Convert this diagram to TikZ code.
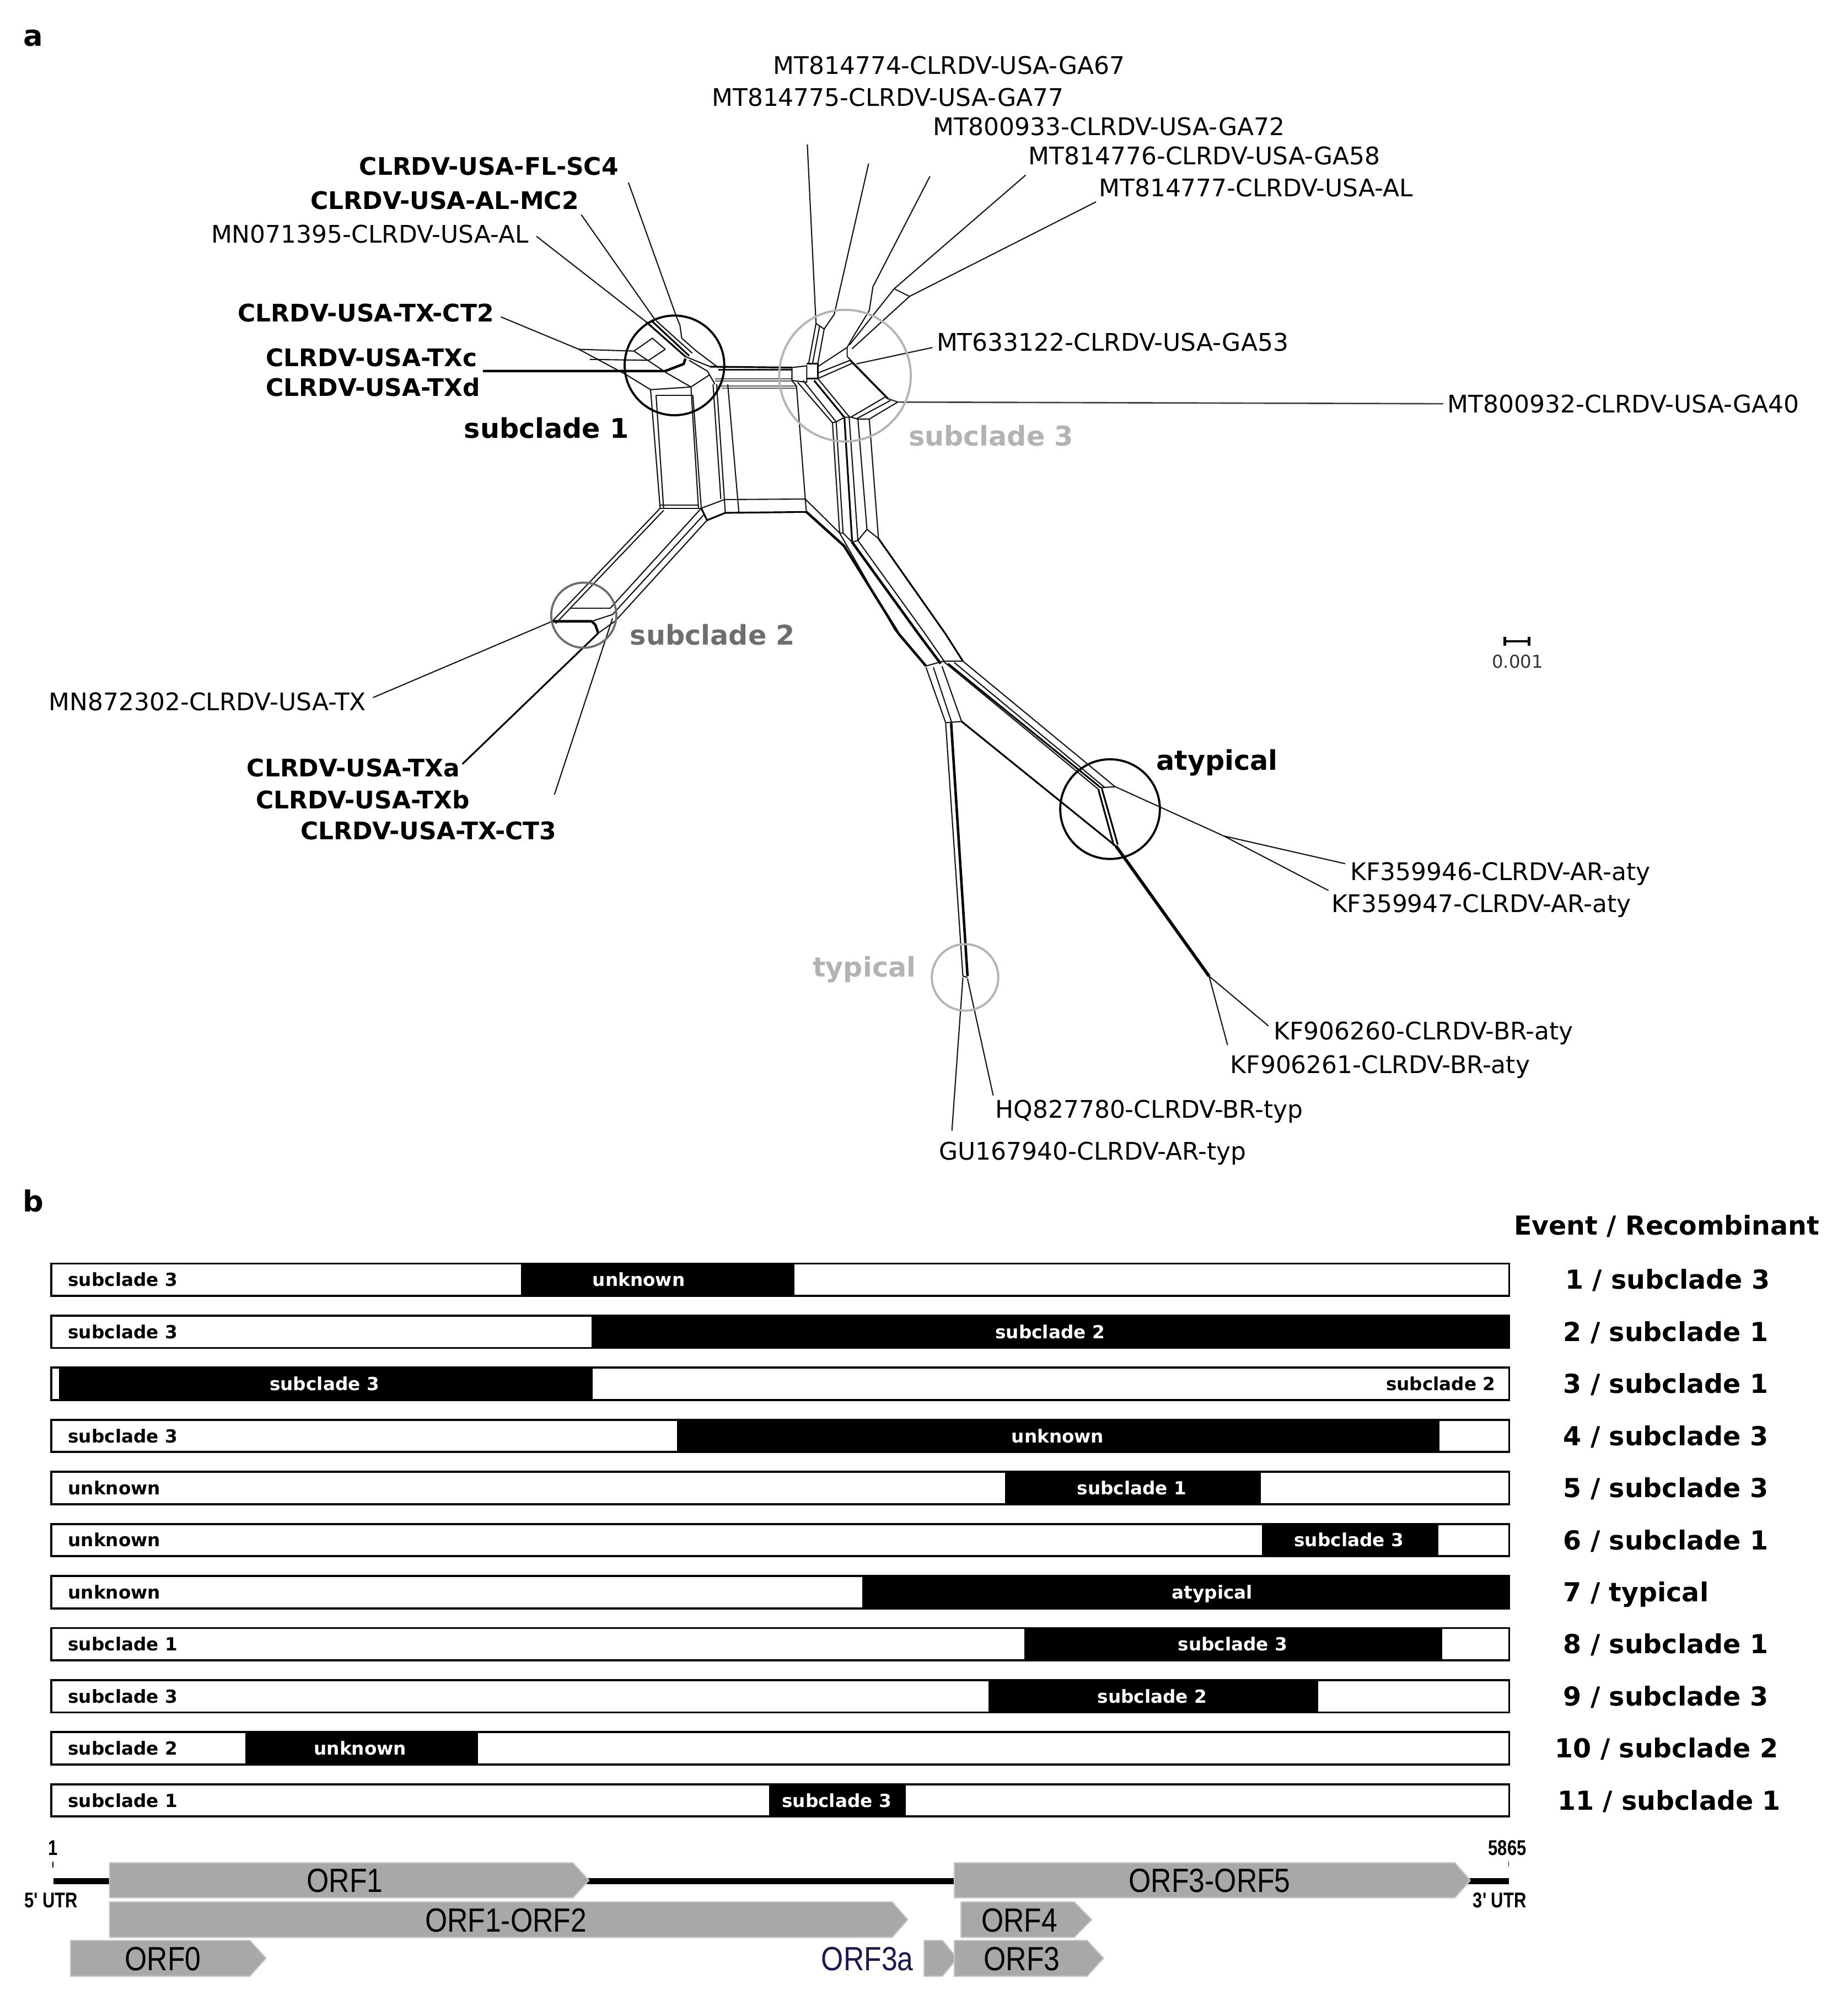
\documentclass[tikz,border=0pt]{standalone}
\usepackage{fontspec}
\usepackage{graphicx}
\setmainfont{DejaVu Sans}
\newfontfamily\lsans{Liberation Sans}
\definecolor{lg}{HTML}{B3B3B3}
\definecolor{dg}{HTML}{6E6E6E}
\definecolor{orfgray}{HTML}{A8A8A8}
\definecolor{orfedge}{HTML}{C8C8C8}
\definecolor{navyt}{HTML}{1A1A4E}
\tikzset{
 net/.style={line width=0.6pt, black!92, line join=round},
 netg/.style={line width=0.6pt, black!65, line join=round},
 netm/.style={line width=0.9pt, black, line join=round},
 nett/.style={line width=1.3pt, black, line join=round},
 circ/.style={line width=1.1pt},
 leaf/.style={font=\fontsize{12.5}{14}\selectfont, inner sep=0pt, anchor=west, text height=9.1pt, text depth=0pt},
 leafb/.style={leaf, font=\fontsize{12.5}{14}\selectfont\bfseries},
 clade/.style={font=\fontsize{14}{16}\selectfont\bfseries, inner sep=0pt, anchor=west, text height=10.2pt, text depth=0pt},
 panel/.style={font=\fontsize{15}{17}\selectfont\bfseries, inner sep=0pt},
 barbox/.style={line width=1.1pt, draw=black},
 barlbl/.style={font=\fontsize{9.3}{11}\selectfont\bfseries, inner sep=0pt, text height=6.8pt, text depth=0pt},
 evlbl/.style={font=\fontsize{13.5}{16}\selectfont\bfseries, inner sep=0pt, anchor=west, text height=9.8pt, text depth=0pt},
 orf/.style={fill=orfgray, draw=orfedge, line width=0.6pt, line join=round},
 orflbl/.style={font=\lsans\fontsize{17.3}{20}\selectfont, inner sep=0pt, text height=12.4pt, text depth=0pt},
 gmlbl/.style={font=\lsans\fontsize{11}{13}\selectfont\bfseries, inner sep=0pt, text height=7.9pt, text depth=0pt},
}
\newcommand{\sq}[1]{\scalebox{0.85}[1]{#1}}
\newcommand{\sqq}[1]{\scalebox{0.8}[1]{#1}}
\begin{document}
\begin{tikzpicture}[x=0.02317cm, y=-0.02317cm]
\useasboundingbox (0,0) rectangle (1446.7,1565.4);
\fill[white] (0,0) rectangle (1446.7,1565.4);

% ================= panel a =================
\node[panel] (pa) at (26,30) {a};

% ---- subclade 1 region ----
\draw[net] (392,248) -- (453.2,273.4) -- (490.6,293.5) -- (509.3,305);
\draw[net] (420,185) -- (505.7,251.8);
\draw[net] (455,168) -- (512.9,250.4);
\draw[net] (492,143) -- (529.4,247.5) -- (532.3,254.7) -- (533.7,264.7) -- (545.2,274.8) -- (562.5,287.8);
\draw[nett] (378,290.4) -- (520.8,290.4) -- (535.2,284.9) -- (536.6,280.6);
\draw[netm] (505.7,251.8) -- (536.6,279.1);
\draw[netm] (510,251) -- (539.5,278.5);
\draw[net] (513.6,251) -- (542,276.5);
\draw[net] (453.2,273.4) -- (496.3,274.8) -- (510.7,264.7) -- (520.8,273.4);
\draw[net] (461.8,281.3) -- (507.8,282) -- (520.8,273.4);
\draw[net] (496.3,274.8) -- (522.2,292.1) -- (540.9,302.9);
\draw[net] (536.6,279.1) -- (556,287);
\draw[net] (539.5,282) -- (553.9,290.6) -- (559.6,300.7);
\draw[net] (509.3,305) -- (540.9,302.9) -- (555.3,293.5);
\draw[net] (513.6,309.3) -- (542.4,309.3);

% ---- top horizontal bundle ----
\draw[netm] (556,287) -- (620,287.7);
\draw[net] (562.5,289.4) -- (620,289.4);
\draw[netg] (559.6,296.5) -- (620,296.5);
\draw[netg] (559.6,298.2) -- (620,298.2);
\draw[netg] (562,302.2) -- (623.5,302.2);
\draw[netg] (565,303.8) -- (623.5,303.8);

% ---- box ----
\draw[net] (509.3,305) -- (516.8,397.8);
\draw[net] (513.6,309.3) -- (519.5,397.8);
\draw[net] (540.9,302.9) -- (546.8,397.5);
\draw[net] (542.4,309.3) -- (549,397.8);
\draw[net] (558.2,300.7) -- (564.3,390.6);
\draw[net] (561,300.7) -- (567.1,391);
\draw[net] (569.7,300.7) -- (578.4,400.9);
\draw[net] (516.8,397.8) -- (549,397.8);
\draw[net] (516.8,395.5) -- (546.8,395.5);
\draw[net] (549,397.8) -- (567.1,391) -- (630.4,390.6);
\draw[netm] (549,397.8) -- (553.5,407.2) -- (567.8,401.4) -- (631.3,400.7);
\draw[net] (567.1,391) -- (567.8,401.4);
\draw[net] (630.4,390.6) -- (631.3,400.7);
\draw[net] (620,297.8) -- (623.5,302.2) -- (630.4,390.6);

% ---- subclade 3 region ----
\draw[net] (620,287.7) -- (631.6,286.3) -- (631.6,299.2) -- (620,297.8) -- cycle;
\draw[netm] (631.6,284.8) -- (640.2,284.8) -- (640.2,296.3) -- (631.6,296.3);
\draw[net] (632,113) -- (638.8,253.2) -- (633,284.8);
\draw[net] (641.6,255.5) -- (636,285);
\draw[net] (638.8,253.2) -- (645.2,257.5);
\draw[net] (680,128) -- (653.1,246) -- (645.2,257.5) -- (640.2,284.8);
\draw[net] (728,138) -- (683.4,224.4) -- (680.5,243.1) -- (669,261.8) -- (663.2,271.9);
\draw[net] (803,137) -- (700,226) -- (665,270);
\draw[net] (858,158) -- (712,232) -- (667,273);
\draw[net] (700,226) -- (712,232);
\draw[net] (640.2,287) -- (663.2,271.9) -- (663.2,279);
\draw[net] (640.2,292) -- (665.5,282);
\draw[net] (640.2,296.3) -- (668,284);
\draw[net] (730,272) -- (670.4,284.8);
\draw[net] (663.2,279) -- (693.4,310.5);
\draw[netm] (665.5,282) -- (695,312);
\draw[net] (668,284) -- (697,313.5);
\draw[line width=0.75pt, black!75] (1130,316) -- (702.8,314.7) -- (695,312);
\draw[net] (693.4,310.5) -- (666.1,326.5);
\draw[net] (697,313.5) -- (670,328);
\draw[net] (702.8,314.7) -- (680.5,328);
\draw[net] (624.4,299.2) -- (651.7,330.9);
\draw[net] (628.7,297.8) -- (654.6,330.2);
\draw[netm] (637.3,297.8) -- (661,326.6);
\draw[net] (640.2,296.3) -- (664.7,326);
\draw[net] (651.7,330.9) -- (657.3,417.2);
\draw[net] (654.6,330.2) -- (660,417.2);
\draw[netm] (661,326.6) -- (667.1,424.4);
\draw[net] (664.7,326) -- (671.6,423);
\draw[net] (671.6,328) -- (678.7,414.3);
\draw[net] (680.5,328) -- (687.7,421.5);
\draw[net] (651.7,330.9) -- (654.6,330.2) -- (661,326.6) -- (666.1,326.5) -- (671.6,328) -- (680.5,328);
\draw[net] (657.3,417.2) -- (660,417.2) -- (667.1,424.4) -- (671.6,423) -- (678.7,414.3) -- (687.7,421.5);

% ---- diagonal bundle ----
\draw[nett] (631.3,400.7) -- (660.8,427.3) -- (703.7,496.3) -- (724.9,521.3);
\draw[net] (630.4,390.6) -- (657.3,417.2) -- (700.5,493) -- (722,518.5);
\draw[nett] (667.1,424.4) -- (719.1,496.3) -- (736.4,519.4);
\draw[net] (671.6,423) -- (723.5,495) -- (739.5,518);
\draw[netm] (687.7,421.5) -- (740.3,496.3) -- (753.8,517.5);
\draw[net] (724.9,521.3) -- (738.4,517.5) -- (753.8,517.5);

% ---- atypical / typical ----
\draw[net] (738.4,517.5) -- (859.8,617.7);
\draw[netm] (742.2,519.4) -- (861.7,616.5);
\draw[net] (747,518.5) -- (865,616.5);
\draw[net] (753.8,517.5) -- (873.2,616);
\draw[net] (724.9,522.3) -- (740.3,565.7);
\draw[net] (730.7,522.3) -- (745.1,565.7);
\draw[net] (737.4,521.3) -- (752.8,564.7);
\draw[net] (740.3,565.7) -- (752.8,564.7);
\draw[net] (740.3,566) -- (753.8,764);
\draw[nett] (744.6,566) -- (757.4,764);
\draw[net] (753.8,764) -- (757.4,765);
\draw[net] (753.8,765) -- (745.2,885);
\draw[net] (757.4,766) -- (777.5,857.4);
\draw[netm] (752.8,564.7) -- (873.2,662);
\draw[netm] (859.8,617.7) -- (872,662);
\draw[netm] (862.5,617) -- (875,661);
\draw[net] (861.7,616.5) -- (873.2,615.8) -- (958,654.3) -- (1053,676);
\draw[net] (958,654.3) -- (1040,697);
\draw[line width=1.6pt] (873.5,662) -- (946.5,764);
\draw[net] (946.5,764) -- (993,803);
\draw[net] (946.5,764) -- (961,818);

% ---- subclade 2 ----
\draw[net] (516.8,397.8) -- (432.3,486.3);
\draw[net] (519.5,399.5) -- (435,488);
\draw[net] (549,397.8) -- (477.6,476.2);
\draw[net] (551.3,402.5) -- (479.5,481);
\draw[net] (553.5,407.2) -- (481.7,486);
\draw[net] (446,476.2) -- (477.6,476.2);
\draw[nett] (432.3,486.3) -- (463.2,486.3) -- (466.1,489.1) -- (468.3,495.6);
\draw[net] (468.3,495.6) -- (481.7,486);
\draw[net] (463.2,486.3) -- (479.5,481);
\draw[net] (432.3,486.3) -- (292,546);
\draw[netm] (468.3,495.6) -- (362,598);
\draw[net] (479.5,484) -- (474,500.7) -- (434,622);

% ---- circles ----
\draw[circ, black] (528,286) circle[radius=39];
\draw[circ, lg] (661.5,294) circle[radius=51.5];
\draw[circ, dg] (457,481.5) circle[radius=25.5];
\draw[circ, black] (869,633.3) circle[radius=39];
\draw[circ, lg] (755.5,765) circle[radius=26];

% ---- leaf labels ----
\node[leaf] (l1) at (605,51) {MT814774-CLRDV-USA-GA67};
\node[leaf] (l2) at (557,76) {MT814775-CLRDV-USA-GA77};
\node[leaf] (l3) at (730,99) {MT800933-CLRDV-USA-GA72};
\node[leaf] (l4) at (805,122) {MT814776-CLRDV-USA-GA58};
\node[leaf] (l5) at (860,147) {MT814777-CLRDV-USA-AL};
\node[leaf] (l6) at (733,268) {MT633122-CLRDV-USA-GA53};
\node[leaf] (l7) at (1133,316) {MT800932-CLRDV-USA-GA40};
\node[leaf] (l8) at (165,183) {MN071395-CLRDV-USA-AL};
\node[leaf] (l9) at (38,549) {MN872302-CLRDV-USA-TX};
\node[leaf] (l10) at (1057,682) {KF359946-CLRDV-AR-aty};
\node[leaf] (l11) at (1042,707) {KF359947-CLRDV-AR-aty};
\node[leaf] (l12) at (997,807) {KF906260-CLRDV-BR-aty};
\node[leaf] (l13) at (963,833) {KF906261-CLRDV-BR-aty};
\node[leaf] (l14) at (779,868) {HQ827780-CLRDV-BR-typ};
\node[leaf] (l15) at (735,901) {GU167940-CLRDV-AR-typ};
\node[leafb] (b1) at (281,130) {CLRDV-USA-FL-SC4};
\node[leafb] (b2) at (243,157) {CLRDV-USA-AL-MC2};
\node[leafb] (b3) at (186,245) {CLRDV-USA-TX-CT2};
\node[leafb] (b4) at (208,280) {CLRDV-USA-TXc};
\node[leafb] (b5) at (208,303) {CLRDV-USA-TXd};
\node[leafb] (b6) at (193,601) {CLRDV-USA-TXa};
\node[leafb] (b7) at (200,626) {CLRDV-USA-TXb};
\node[leafb] (b8) at (235,650) {CLRDV-USA-TX-CT3};
\node[clade] (c1) at (363,335) {subclade 1};
\node[clade, text=lg] (c3) at (711,341) {subclade 3};
\node[clade, text=dg] (c2) at (493,497) {subclade 2};
\node[clade] (c4) at (905,595) {atypical};
\node[clade, text=lg] (c5) at (636,757) {typical};

% ---- scale bar ----
\draw[line width=1.2pt] (1178,502) -- (1197,502);
\draw[line width=1.2pt] (1178,498.5) -- (1178,505.5);
\draw[line width=1.2pt] (1197,498.5) -- (1197,505.5);
\node[font=\fontsize{9.2}{11}\selectfont, text=black!80, inner sep=0pt] (sb) at (1188,518) {0.001};

% ================= panel b =================
\node[panel] (pb) at (26,940) {b};
\node[evlbl] (ev) at (1185,959) {Event / Recombinant};

% row 1
\draw[barbox, fill=white] (40.3,989) rectangle (1181.5,1014.2);
\fill (408,989) rectangle (622,1014.2);
\draw[barbox] (40.3,989) rectangle (1181.5,1014.2);
\node[barlbl, anchor=west] (r1a) at (53,1001.6) {subclade 3};
\node[barlbl, text=white] (r1b) at (500,1001.6) {unknown};
\node[evlbl] (e1) at (1225,1001.6) {1 / subclade 3};
% row 2
\draw[barbox, fill=white] (40.3,1029.8) rectangle (1181.5,1055);
\fill (463,1029.8) rectangle (1181.5,1055);
\draw[barbox] (40.3,1029.8) rectangle (1181.5,1055);
\node[barlbl, anchor=west] (r2a) at (53,1042.4) {subclade 3};
\node[barlbl, text=white] (r2b) at (822,1042.4) {subclade 2};
\node[evlbl] (e2) at (1223.5,1042.4) {2 / subclade 1};
% row 3
\draw[barbox, fill=white] (40.3,1070.5) rectangle (1181.5,1095.7);
\fill (46,1070.5) rectangle (464,1095.7);
\draw[barbox] (40.3,1070.5) rectangle (1181.5,1095.7);
\node[barlbl, text=white] (r3a) at (254,1083.1) {subclade 3};
\node[barlbl, anchor=east] (r3b) at (1171,1083.1) {subclade 2};
\node[evlbl] (e3) at (1223.5,1083.1) {3 / subclade 1};
% row 4
\draw[barbox, fill=white] (40.3,1111.3) rectangle (1181.5,1136.5);
\fill (530,1111.3) rectangle (1127,1136.5);
\draw[barbox] (40.3,1111.3) rectangle (1181.5,1136.5);
\node[barlbl, anchor=west] (r4a) at (53,1123.9) {subclade 3};
\node[barlbl, text=white] (r4b) at (828,1123.9) {unknown};
\node[evlbl] (e4) at (1223.5,1123.9) {4 / subclade 3};
% row 5
\draw[barbox, fill=white] (40.3,1152) rectangle (1181.5,1177.2);
\fill (787,1152) rectangle (987,1177.2);
\draw[barbox] (40.3,1152) rectangle (1181.5,1177.2);
\node[barlbl, anchor=west] (r5a) at (53,1164.6) {unknown};
\node[barlbl, text=white] (r5b) at (886,1164.6) {subclade 1};
\node[evlbl] (e5) at (1223.5,1164.6) {5 / subclade 3};
% row 6
\draw[barbox, fill=white] (40.3,1192.8) rectangle (1181.5,1218);
\fill (988,1192.8) rectangle (1126,1218);
\draw[barbox] (40.3,1192.8) rectangle (1181.5,1218);
\node[barlbl, anchor=west] (r6a) at (53,1205.4) {unknown};
\node[barlbl, text=white] (r6b) at (1056,1205.4) {subclade 3};
\node[evlbl] (e6) at (1223.5,1205.4) {6 / subclade 1};
% row 7
\draw[barbox, fill=white] (40.3,1233.6) rectangle (1181.5,1258.8);
\fill (675,1233.6) rectangle (1181.5,1258.8);
\draw[barbox] (40.3,1233.6) rectangle (1181.5,1258.8);
\node[barlbl, anchor=west] (r7a) at (53,1246.2) {unknown};
\node[barlbl, text=white] (r7b) at (949,1246.2) {atypical};
\node[evlbl] (e7) at (1223.5,1246.2) {7 / typical};
% row 8
\draw[barbox, fill=white] (40.3,1274.3) rectangle (1181.5,1299.5);
\fill (802,1274.3) rectangle (1129,1299.5);
\draw[barbox] (40.3,1274.3) rectangle (1181.5,1299.5);
\node[barlbl, anchor=west] (r8a) at (53,1286.9) {subclade 1};
\node[barlbl, text=white] (r8b) at (965,1286.9) {subclade 3};
\node[evlbl] (e8) at (1223.5,1286.9) {8 / subclade 1};
% row 9
\draw[barbox, fill=white] (40.3,1315.1) rectangle (1181.5,1340.3);
\fill (774,1315.1) rectangle (1032,1340.3);
\draw[barbox] (40.3,1315.1) rectangle (1181.5,1340.3);
\node[barlbl, anchor=west] (r9a) at (53,1327.7) {subclade 3};
\node[barlbl, text=white] (r9b) at (902,1327.7) {subclade 2};
\node[evlbl] (e9) at (1223.5,1327.7) {9 / subclade 3};
% row 10
\draw[barbox, fill=white] (40.3,1355.8) rectangle (1181.5,1381);
\fill (192,1355.8) rectangle (374,1381);
\draw[barbox] (40.3,1355.8) rectangle (1181.5,1381);
\node[barlbl, anchor=west] (r10a) at (53,1368.4) {subclade 2};
\node[barlbl, text=white] (r10b) at (282,1368.4) {unknown};
\node[evlbl] (e10) at (1217,1368.4) {10 / subclade 2};
% row 11
\draw[barbox, fill=white] (40.3,1396.6) rectangle (1181.5,1421.8);
\fill (602,1396.6) rectangle (709,1421.8);
\draw[barbox] (40.3,1396.6) rectangle (1181.5,1421.8);
\node[barlbl, anchor=west] (r11a) at (53,1409.2) {subclade 1};
\node[barlbl, text=white] (r11b) at (655,1409.2) {subclade 3};
\node[evlbl] (e11) at (1219,1409.2) {11 / subclade 1};

% ================= genome map =================
\draw[line width=3.2pt] (42,1472.5) -- (1181.3,1472.5);
\draw[line width=0.5pt] (41.5,1457) -- (41.5,1462);
\draw[line width=0.5pt] (1181,1457) -- (1181,1461);
\node[gmlbl] (g1) at (41.5,1446) {\sqq{1}};
\node[gmlbl] (g2) at (1180,1446) {\sqq{5865}};
\node[gmlbl] (g3) at (40,1487) {\sqq{5' UTR}};
\node[gmlbl] (g4) at (1174,1487) {\sqq{3' UTR}};
% row 1
\draw[orf] (85.7,1458) -- (448.5,1458) -- (461,1471.7) -- (448.5,1485.4) -- (85.7,1485.4) -- cycle;
\draw[orf] (747,1458) -- (1139,1458) -- (1151,1471.7) -- (1139,1485.4) -- (747,1485.4) -- cycle;
% row 2
\draw[orf] (85.7,1488.6) -- (698.5,1488.6) -- (710.6,1502.5) -- (698.5,1516.4) -- (85.7,1516.4) -- cycle;
\draw[orf] (752.3,1488.6) -- (841,1488.6) -- (854.6,1502.5) -- (841,1516.4) -- (752.3,1516.4) -- cycle;
% row 3
\draw[orf] (55.2,1518.7) -- (195.6,1518.7) -- (208.3,1532.7) -- (195.6,1546.8) -- (55.2,1546.8) -- cycle;
\draw[orf] (723.4,1518.7) -- (737.8,1518.7) -- (749.4,1532.7) -- (737.8,1546.8) -- (723.4,1546.8) -- cycle;
\draw[orf] (747,1518.7) -- (851,1518.7) -- (864,1532.7) -- (851,1546.8) -- (747,1546.8) -- cycle;
\node[orflbl] (o1) at (270,1471.7) {\sq{ORF1}};
\node[orflbl] (o2) at (947,1471.7) {\sq{ORF3-ORF5}};
\node[orflbl] (o3) at (396,1502.5) {\sq{ORF1-ORF2}};
\node[orflbl] (o4) at (798,1502.5) {\sq{ORF4}};
\node[orflbl] (o5) at (127.5,1532.7) {\sq{ORF0}};
\node[orflbl] (o6) at (800,1532.7) {\sq{ORF3}};
\node[orflbl, text=navyt] (o7) at (679,1532.7) {\sq{ORF3a}};
\end{tikzpicture}
\end{document}
